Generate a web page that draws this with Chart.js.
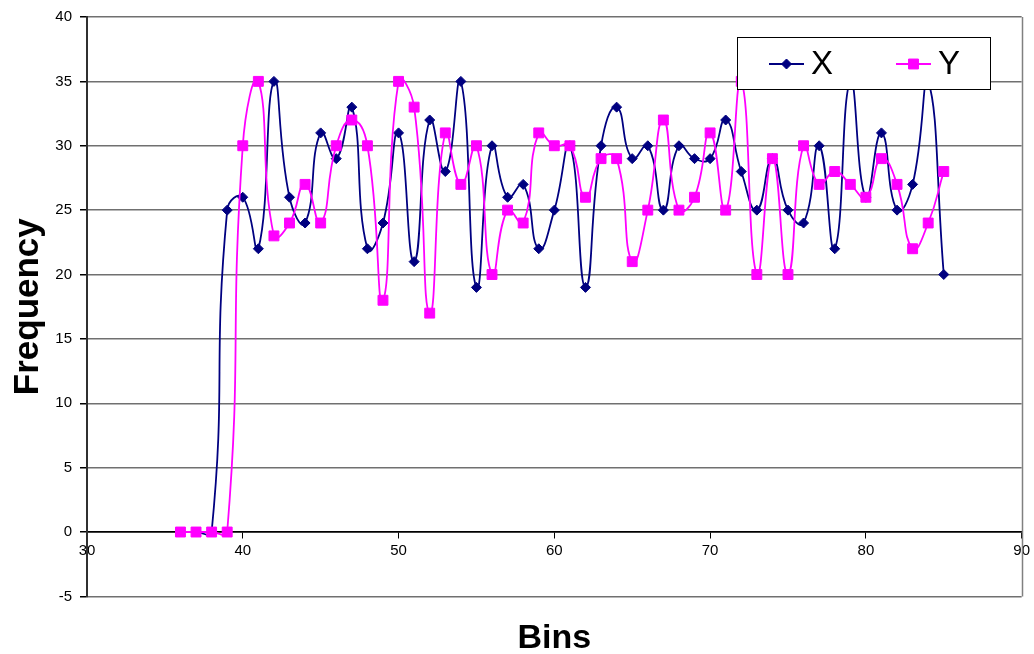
<!DOCTYPE html>
<html>
<head>
<meta charset="utf-8">
<script src="https://cdn.jsdelivr.net/npm/chart.js@4/dist/chart.umd.min.js"></script>
<style>
  body { margin: 0; background: #fff; }
  #wrap { width: 1034px; height: 654px; }
</style>
</head>
<body>
<div id="wrap"><canvas id="freqChart" width="1034" height="654"></canvas></div>
<script>
// Bins on the x axis
const bins = [36, 37, 38, 39, 40, 41, 42, 43, 44, 45, 46, 47, 48, 49, 50, 51, 52, 53, 54, 55,
              56, 57, 58, 59, 60, 61, 62, 63, 64, 65, 66, 67, 68, 69, 70, 71, 72, 73, 74, 75,
              76, 77, 78, 79, 80, 81, 82, 83, 84, 85];

// Frequencies
const xFreq = [0, 0, 0, 25, 26, 22, 35, 26, 24, 31, 29, 33, 22, 24, 31, 21, 32, 28, 35, 19,
               30, 26, 27, 22, 25, 30, 19, 30, 33, 29, 30, 25, 30, 29, 29, 32, 28, 25, 29, 25,
               24, 30, 22, 35, 26, 31, 25, 27, 35, 20];
const yFreq = [0, 0, 0, 0, 30, 35, 23, 24, 27, 24, 30, 32, 30, 18, 35, 33, 17, 31, 27, 30,
               20, 25, 24, 31, 30, 30, 26, 29, 29, 21, 25, 32, 25, 26, 31, 25, 35, 20, 29, 20,
               30, 27, 28, 27, 26, 29, 27, 22, 24, 28];

// Axis ranges / ticks
const xMin = 30, xMax = 90, xStep = 10;
const yMin = -5, yMax = 40, yStep = 5;

const seriesNames = ['X', 'Y'];

Chart.defaults.font.family = '"Liberation Sans", Arial, sans-serif';
Chart.defaults.color = '#000';

const toPoints = vals => vals.map((v, i) => ({ x: bins[i], y: v }));

// plot frame + legend box drawn on top of the lines
const frameAndLegend = {
    id: 'frameAndLegend',
    beforeDatasetsDraw(chart) {
        const a = chart.chartArea;
        const c = chart.ctx;
        c.save();
        c.strokeStyle = '#808080';
        c.lineWidth = 1.5;
        c.beginPath();
        c.moveTo(Math.round(a.right) + 0.5, a.top);
        c.lineTo(Math.round(a.right) + 0.5, a.bottom);
        c.stroke();
        c.restore();
    },
    afterDraw(chart) {
        const c = chart.ctx;
        const box = { left: 737, top: 37, width: 253, height: 52 };
        c.save();
        c.fillStyle = '#fff';
        c.fillRect(box.left, box.top, box.width, box.height);
        c.strokeStyle = '#000';
        c.lineWidth = 1;
        c.strokeRect(box.left + 0.5, box.top + 0.5, box.width, box.height);

        const cy = box.top + 27;
        const starts = [box.left + 32, box.left + 159];
        chart.data.datasets.forEach((ds, i) => {
            const x0 = starts[i];
            c.strokeStyle = ds.borderColor;
            c.lineWidth = ds.borderWidth;
            c.beginPath();
            c.moveTo(x0, cy);
            c.lineTo(x0 + 35, cy);
            c.stroke();
            c.fillStyle = ds.pointBackgroundColor;
            c.strokeStyle = ds.pointBorderColor;
            c.lineWidth = 1;
            Chart.helpers.drawPoint(c, {
                pointStyle: ds.pointStyle,
                radius: ds.pointRadius,
                borderWidth: 1,
                rotation: 0
            }, x0 + 17.5, cy);
            c.fillStyle = '#000';
            c.font = '33px "Liberation Sans", Arial, sans-serif';
            c.textBaseline = 'middle';
            c.textAlign = 'left';
            c.fillText(ds.label, x0 + 42, cy + 1);
        });
        c.restore();
    }
};

const ctx = document.getElementById('freqChart').getContext('2d');
new Chart(ctx, {
    type: 'line',
    data: {
        datasets: [
            {
                label: seriesNames[0],
                data: toPoints(xFreq),
                borderColor: '#000080',
                borderWidth: 1.8,
                pointStyle: 'rectRot',
                pointRadius: 5,
                pointBackgroundColor: '#000080',
                pointBorderColor: '#000080',
                pointBorderWidth: 1,
                tension: 0.5,
                order: 2
            },
            {
                label: seriesNames[1],
                data: toPoints(yFreq),
                borderColor: '#FF00FF',
                borderWidth: 1.8,
                pointStyle: 'rect',
                pointRadius: 7,
                pointBackgroundColor: '#FF00FF',
                pointBorderColor: '#FF00FF',
                pointBorderWidth: 1,
                tension: 0.5,
                order: 1
            }
        ]
    },
    options: {
        responsive: false,
        animation: false,
        layout: { padding: { top: 17, right: 11, left: 0, bottom: 0 } },
        plugins: {
            legend: { display: false },
            tooltip: { enabled: false }
        },
        scales: {
            x: {
                type: 'linear',
                min: xMin,
                max: xMax,
                position: { y: 0 },
                ticks: { stepSize: xStep, font: { size: 15 }, color: '#000', padding: 4 },
                grid: { drawOnChartArea: false, drawTicks: true, tickLength: 6, tickColor: '#000' },
                border: { color: '#000', width: 1.5 }
            },
            // only carries the "Bins" title under the plot
            xTitle: {
                type: 'linear',
                axis: 'x',
                position: 'bottom',
                min: xMin,
                max: xMax,
                ticks: { display: false },
                grid: { display: false, drawTicks: false },
                border: { display: false },
                title: {
                    display: true,
                    text: 'Bins',
                    color: '#000',
                    font: { size: 34, weight: 'bold', lineHeight: 0.9 },
                    padding: { top: 27, bottom: 0 }
                }
            },
            y: {
                min: yMin,
                max: yMax,
                ticks: { stepSize: yStep, font: { size: 15 }, color: '#000', padding: 8 },
                grid: {
                    color: c => (c.tick && c.tick.value === 0 ? '#000' : '#707070'),
                    lineWidth: 1.5,
                    tickColor: '#000',
                    tickLength: 7
                },
                border: { color: '#303030', width: 2 },
                title: {
                    display: true,
                    text: 'Frequency',
                    color: '#000',
                    font: { size: 35, weight: 'bold', lineHeight: 1 },
                    padding: { top: 11, bottom: 0 }
                },
                afterFit: scale => { scale.width = 87; }
            }
        }
    },
    plugins: [frameAndLegend]
});
</script>
</body>
</html>
